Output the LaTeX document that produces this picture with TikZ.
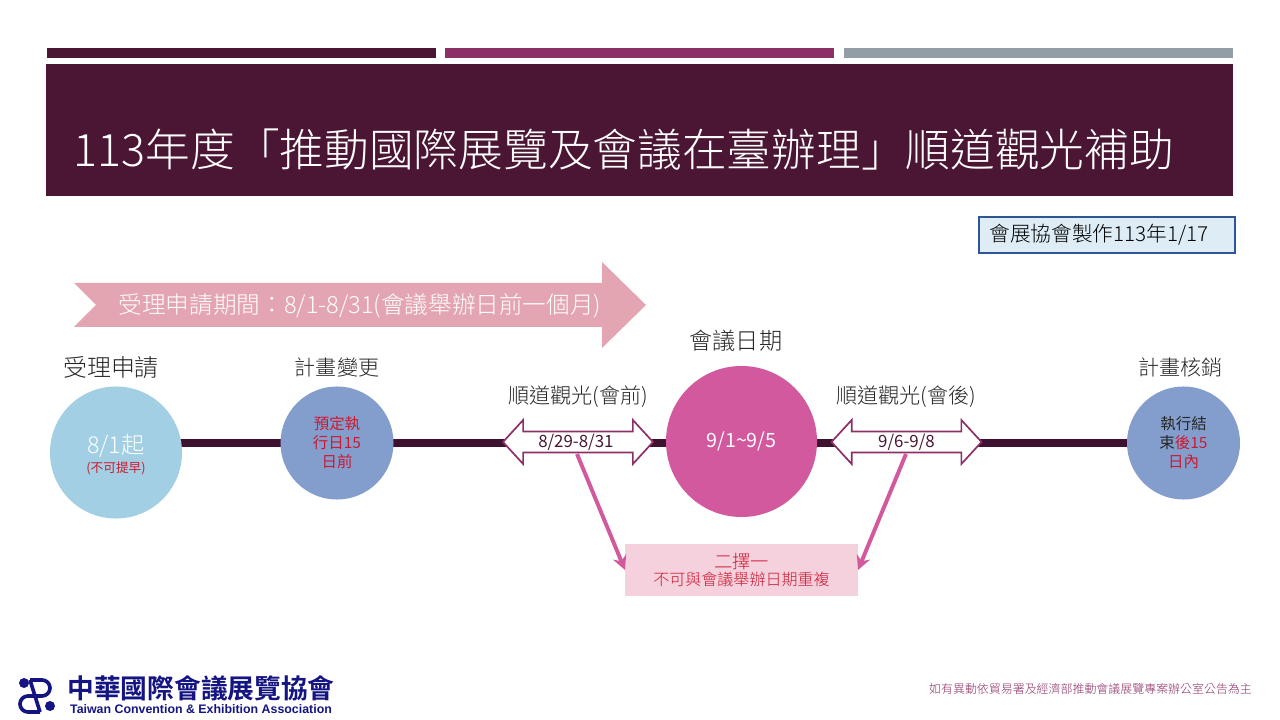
\documentclass[tikz,border=0pt]{standalone}
\usepackage{fontspec}
\setmainfont{Noto Sans CJK TC Light}
\newfontfamily\regfont{Noto Sans CJK TC}
\newfontfamily\logofont{Noto Sans CJK TC Bold}
\newfontfamily\latinfont{Liberation Sans}
\usepackage{tikz}
\usetikzlibrary{positioning,shapes.arrows,arrows.meta,backgrounds}
\definecolor{wine}{RGB}{75,22,52}
\definecolor{linewine}{RGB}{63,17,48}
\definecolor{plum}{RGB}{139,47,102}
\definecolor{steel}{RGB}{146,158,165}
\definecolor{skyfill}{RGB}{162,207,227}
\definecolor{slatefill}{RGB}{131,158,204}
\definecolor{rosefill}{RGB}{210,89,158}
\definecolor{blushfill}{RGB}{228,165,178}
\definecolor{palepink}{RGB}{244,209,220}
\definecolor{notered}{RGB}{205,25,50}
\definecolor{badgefill}{RGB}{222,237,245}
\definecolor{badgeline}{RGB}{47,85,151}
\definecolor{logoblue}{RGB}{20,20,130}
\newcommand{\fs}[1]{\fontsize{#1}{#1}\selectfont}

\begin{document}
\begin{tikzpicture}[x=0.025cm, y=-0.025cm,
  stage/.style={circle, inner sep=0pt, outer sep=0pt, align=center},
  steplabel/.style={inner sep=0pt, align=center, text=black!85},
  tourarrow/.style={double arrow, draw=plum, line width=1.2pt, fill=white, inner sep=0pt, outer sep=0pt,
                    minimum height=3.75cm, minimum width=1.1cm, double arrow head extend=0.25cm,
                    double arrow tip angle=95, font={\regfont\fs{12}}, text=wine},
  link/.style={line width=5.7pt, linewine},
  pick/.style={-{Stealth[length=10pt,width=10pt]}, line width=2.8pt, rosefill}
]
\useasboundingbox (0,0) rectangle (1280,720);
% header
\fill[wine] (47,48) rectangle (436,58);
\fill[plum] (445,48) rectangle (834,58);
\fill[steel] (844,48) rectangle (1233,58);
\node[fill=wine, minimum width=29.675cm, minimum height=3.3cm, inner sep=0pt, outer sep=0pt] (titlebar) at (639.5,130) {};
\node[text=white, font=\fs{31.8}, inner sep=0pt] (title) at (624,150) {113年度「推動國際展覽及會議在臺辦理」順道觀光補助};
\node[draw=badgeline, line width=1.1pt, fill=badgefill, minimum width=6.4cm, minimum height=0.9cm, inner sep=0pt, font=\fs{14.7}] (badge) at (1107,235) {會展協會製作113年1/17\hspace{11.4pt}\mbox{}};
% long arrow
\fill[blushfill] (74,283) -- (602,283) -- (602,262) -- (646,305) -- (602,348) -- (602,327) -- (74,327) -- (96,305) -- cycle;
\node[text=white, font=\fs{16.8}, inner sep=0pt] (period) at (360,306) {受理申請期間：8/1-8/31(會議舉辦日前一個月)};
% stages
\node[stage, fill=skyfill, minimum size=3.3cm] (apply) at (116,452.5) {};
\node[stage, fill=slatefill, minimum size=2.825cm, font={\regfont\fs{11}}, text=notered] (change) at (337,443) {預定執\\[2.5pt]行日15\\[2.5pt]日前};
\node[stage, fill=rosefill, minimum size=3.775cm, font={\regfont\fs{14}}, text=white] (meeting) at (741.5,441.5) {9/1\textasciitilde9/5};
\node[stage, fill=slatefill, minimum size=2.825cm, font={\regfont\fs{11}}, text=black!85] (audit) at (1183.5,443) {執行結\\[2.5pt]束\textcolor{notered}{後15}\\[2.5pt]\textcolor{notered}{日內}};
\node[tourarrow] (pre) at (578,442) {\raisebox{-1.4pt}{8/29-8/31\hspace{3pt}}};
\node[tourarrow] (post) at (906.5,442) {\raisebox{-1.4pt}{9/6-9/8}};
\node[align=center, inner sep=0pt, text=white, font=\fs{16.5}] (applydate) at (116,455) {8/1起\\[-3pt]{\regfont\fs{9}\textcolor{notered}{(不可提早)}}};
% labels
\node[steplabel, font=\fs{17}, above=5.6pt of apply, xshift=-3.5pt] (applylabel) {受理申請};
\node[steplabel, font=\fs{15}, above=6.6pt of change] (changelabel) {計畫變更};
\node[steplabel, font=\fs{16.5}, above=10.3pt of meeting, xshift=-4pt] (meetinglabel) {會議日期};
\node[steplabel, font=\fs{15}, above=6.6pt of audit, xshift=-2pt] (auditlabel) {計畫核銷};
\node[steplabel, font=\fs{15}, above=16.5pt of pre] (prelabel) {順道觀光(會前)};
\node[steplabel, font=\fs{15}, above=16.5pt of post] (postlabel) {順道觀光(會後)};
% timeline
\node[fill=palepink, minimum width=5.825cm, minimum height=1.3cm, inner sep=0pt, outer sep=0pt, align=center, text=notered, font=\fs{11.4}] (choice) at (741.5,570) {{\fs{13}二擇一}\\[0.5pt]不可與會議舉辦日期重複};
\coordinate (preout) at (577,454);
\coordinate (postout) at (906,454);
\begin{scope}[on background layer]
\foreach \a/\b in {apply/change, change/pre, pre/meeting, meeting/post, post/audit}
  \draw[link] (\a |- change) -- (\b |- change);
\end{scope}
\draw[pick] (preout) -- (choice.west);
\draw[pick] (postout) -- (choice.east);
% footer
\node[text=plum, font=\fs{8.5}, inner sep=0pt] (notice) at (1090.5,689) {如有異動依貿易署及經濟部推動會議展覽專案辦公室公告為主};
\fill[logoblue] (24,683) circle (5);
\fill[logoblue] (50,706) circle (5);
\draw[logoblue, line width=2.6pt] (30,680) -- (42,680) arc[start angle=-90, end angle=90, radius=8] -- (28,696) arc[start angle=-90, end angle=-270, radius=8] -- (40,712);
\draw[logoblue, line width=2.6pt] (30,680) -- (40,712);
\node[text=logoblue, font={\logofont\fs{19}}, inner sep=0pt] (logocjk) at (201,688.5) {中華國際會議展覽協會};
\node[text=logoblue, font={\latinfont\bfseries\fs{8.8}}, inner sep=0pt] (logolatin) at (201,709.5) {Taiwan Convention \& Exhibition Association};
\end{tikzpicture}
\end{document}
